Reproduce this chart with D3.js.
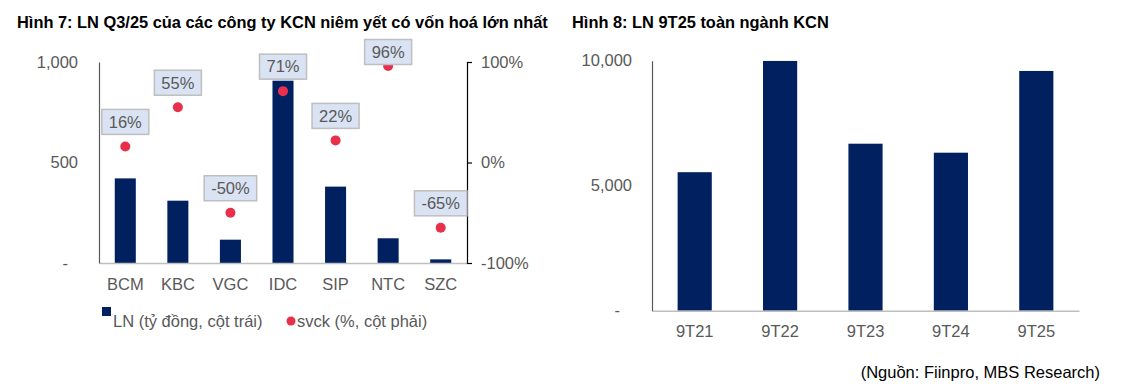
<!DOCTYPE html>
<html>
<head>
<meta charset="utf-8">
<script src="https://cdn.jsdelivr.net/npm/d3@7"></script>
<style>
  html, body { margin: 0; padding: 0; background: #fff; }
  svg { display: block; font-family: "Liberation Sans", Arial, sans-serif; }
</style>
</head>
<body>
<svg id="chart" width="1122" height="392"></svg>
<script>
// ---- Data ----
const companies = ["BCM", "KBC", "VGC", "IDC", "SIP", "NTC", "SZC"];
const profitQ3 = [421, 310, 116, 907, 380, 123, 18];          // LN (tỷ đồng)
const growthYoY = [16, 55, -50, 71, 22, 96, -65];             // svck (%)
const leftTicks = [0, 500, 1000];
const rightTicks = [-100, 0, 100];

const periods = ["9T21", "9T22", "9T23", "9T24", "9T25"];
const profit9M = [5540, 9990, 6680, 6320, 9590];              // LN 9T toàn ngành
const totalTicks = [0, 5000, 10000];

const title1 = "Hình 7: LN Q3/25 của các công ty KCN niêm yết có vốn hoá lớn nhất";
const title2 = "Hình 8: LN 9T25 toàn ngành KCN";
const legendBar = "LN (tỷ đồng, cột trái)";
const legendDot = "svck (%, cột phải)";
const sourceText = "(Nguồn: Fiinpro, MBS Research)";

// ---- Style ----
const NAVY = "#002060";
const RED = "#e8304b";
const TXT = "#595959";
const FS = 16.5;

const svg = d3.select("#chart");
svg.append("rect").attr("width", 1122).attr("height", 392).attr("fill", "#fff");
const fmt = d3.format(",");

// ---- Titles ----
svg.append("text").attr("x", 17).attr("y", 28).attr("font-size", 16.4).attr("font-weight", "bold")
  .attr("fill", "#000").text(title1);
svg.append("text").attr("x", 572).attr("y", 28).attr("font-size", 16.4).attr("font-weight", "bold")
  .attr("fill", "#000").text(title2);

// ================= Chart 1 =================
const x1 = d3.scaleBand().domain(companies).range([99, 467]).paddingInner(0.6).paddingOuter(0.3);
const yL = d3.scaleLinear().domain([0, 1000]).range([263, 62]);
const yR = d3.scaleLinear().domain([-100, 100]).range([263, 62]);

const g1 = svg.append("g");
g1.selectAll("rect.bar").data(companies).join("rect").attr("class", "bar")
  .attr("x", d => x1(d)).attr("width", x1.bandwidth())
  .attr("y", (d, i) => yL(profitQ3[i])).attr("height", (d, i) => yL(0) - yL(profitQ3[i]))
  .attr("fill", NAVY);

// bottom axis
const ax1 = g1.append("g").attr("transform", "translate(0,263)")
  .call(d3.axisBottom(x1).tickSize(0).tickPadding(15));
ax1.select(".domain").attr("stroke", "#bfbfbf").attr("stroke-width", 1.5);
ax1.selectAll("text").attr("font-size", FS).attr("fill", TXT).attr("font-family", null);

// left axis
const axL = g1.append("g").attr("transform", "translate(99,0)")
  .call(d3.axisLeft(yL).tickValues(leftTicks).tickSize(0).tickPadding(21)
    .tickFormat(d => d === 0 ? "-" : fmt(d)));
axL.select(".domain").attr("stroke", "#595959").attr("stroke-width", 1.2);
axL.selectAll("text").attr("font-size", FS).attr("fill", TXT).attr("font-family", null)
  .attr("dx", d => d === 0 ? -10 : 0);

// right axis
const axR = g1.append("g").attr("transform", "translate(467,0)")
  .call(d3.axisRight(yR).tickValues(rightTicks).tickSize(5).tickPadding(9)
    .tickFormat(d => d + "%"));
axR.select(".domain").attr("stroke", "#000").attr("stroke-width", 1.2);
axR.selectAll("line").attr("stroke", "#000").attr("stroke-width", 1.2);
axR.selectAll("text").attr("font-size", FS).attr("fill", TXT).attr("font-family", null);

// dots
g1.selectAll("circle.dot").data(companies).join("circle").attr("class", "dot")
  .attr("cx", d => x1(d) + x1.bandwidth() / 2).attr("cy", (d, i) => yR(growthYoY[i]))
  .attr("r", 5).attr("fill", RED);

// labels
const lab = g1.selectAll("g.lab").data(companies).join("g").attr("class", "lab");
lab.each(function (d, i) {
  const g = d3.select(this);
  const cx = x1(d) + x1.bandwidth() / 2;
  const txt = growthYoY[i] + "%";
  const t = g.append("text").attr("x", cx).attr("text-anchor", "middle")
    .attr("font-size", FS).attr("fill", TXT).text(txt);
  const w = t.node().getComputedTextLength() + 14;
  const h = 25;
  let top = yR(growthYoY[i]) - 12 - h;
  top = Math.max(top, 39.5);
  g.insert("rect", "text").attr("x", cx - w / 2).attr("y", top).attr("width", w).attr("height", h)
    .attr("fill", "#dae3f3").attr("stroke", "#bfbfbf").attr("stroke-width", 1.5);
  t.attr("y", top + h / 2 + FS * 0.35);
});

// legend
svg.append("rect").attr("x", 102).attr("y", 307).attr("width", 9).attr("height", 9).attr("fill", NAVY);
svg.append("text").attr("x", 113).attr("y", 327).attr("font-size", FS).attr("fill", TXT).text(legendBar);
svg.append("circle").attr("cx", 291).attr("cy", 321).attr("r", 4.5).attr("fill", RED);
svg.append("text").attr("x", 297).attr("y", 327).attr("font-size", FS).attr("fill", TXT).text(legendDot);

// ================= Chart 2 =================
const x2 = d3.scaleBand().domain(periods).range([652, 1079]).paddingInner(0.6).paddingOuter(0.3);
const y2 = d3.scaleLinear().domain([0, 10000]).range([310.7, 60.7]);
const g2 = svg.append("g");
g2.selectAll("rect.bar").data(periods).join("rect").attr("class", "bar")
  .attr("x", d => x2(d)).attr("width", x2.bandwidth())
  .attr("y", (d, i) => y2(profit9M[i])).attr("height", (d, i) => y2(0) - y2(profit9M[i]))
  .attr("fill", NAVY);

const ax2 = g2.append("g").attr("transform", "translate(0,310.7)")
  .call(d3.axisBottom(x2).tickSize(0).tickPadding(15));
ax2.select(".domain").attr("stroke", "#bfbfbf").attr("stroke-width", 1.5);
ax2.selectAll("text").attr("font-size", FS).attr("fill", TXT).attr("font-family", null);

const ay2 = g2.append("g").attr("transform", "translate(652,0)")
  .call(d3.axisLeft(y2).tickValues(totalTicks).tickSize(0).tickPadding(20)
    .tickFormat(d => d === 0 ? "-" : fmt(d)));
ay2.select(".domain").attr("stroke", "#595959").attr("stroke-width", 1.2);
ay2.selectAll("text").attr("font-size", FS).attr("fill", TXT).attr("font-family", null)
  .attr("dx", d => d === 0 ? -12 : 0);

// source
svg.append("text").attr("x", 1100).attr("y", 378).attr("text-anchor", "end")
  .attr("font-size", 16.5).attr("fill", "#000").text(sourceText);
</script>
</body>
</html>
